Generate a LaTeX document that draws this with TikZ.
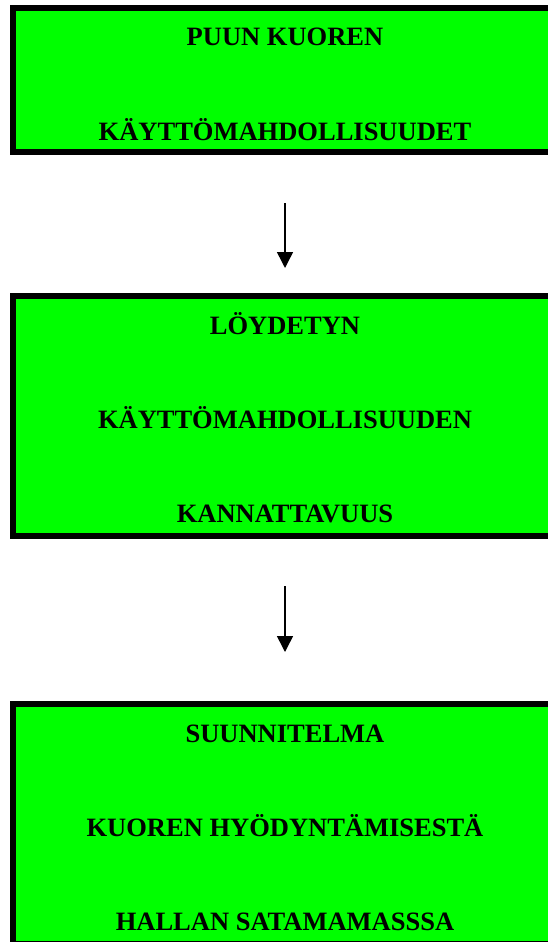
\documentclass[tikz,border=0pt]{standalone}
\usepackage{fontspec}
\setmainfont{Liberation Serif}
\usetikzlibrary{arrows.meta}
\definecolor{boxgreen}{HTML}{00FF00}
\tikzset{
  stagebox/.style={draw=black, fill=boxgreen, line width=6pt, minimum width=544pt, inner sep=0pt},
  stagetext/.style={anchor=base, inner sep=0pt, font=\fontsize{26.5}{30}\selectfont\bfseries},
  flowarrow/.style={line width=1.5pt, -{Triangle[width=16pt,length=16pt]}}
}
\begin{document}
\begin{tikzpicture}[x=1pt,y=-1pt]
\useasboundingbox (0,0) rectangle (547,942);

% stage boxes
\node[stagebox, minimum height=144pt] (b1) at (285,80) {};
\node[stagebox, minimum height=240pt] (b2) at (285,416) {};
\node[stagebox, minimum height=240pt] (b3) at (285,824) {};

% box texts
\node[stagetext] (t11) at (285,46) {PUUN KUOREN};
\node[stagetext] (t12) at (285,140) {KÄYTTÖMAHDOLLISUUDET};

\node[stagetext] (t21) at (285,334) {LÖYDETYN};
\node[stagetext] (t22) at (285,428) {KÄYTTÖMAHDOLLISUUDEN};
\node[stagetext] (t23) at (285,522) {KANNATTAVUUS};

\node[stagetext] (t31) at (285,742) {SUUNNITELMA};
\node[stagetext] (t32) at (285,836) {KUOREN HYÖDYNTÄMISESTÄ};
\node[stagetext] (t33) at (285,930) {HALLAN SATAMAMASSSA};

% arrows between stages
\draw[flowarrow, shorten <=48pt, shorten >=25pt] (b1.south) -- (b2.north);
\draw[flowarrow, shorten <=47pt, shorten >=49pt] (b2.south) -- (b3.north);
\end{tikzpicture}
\end{document}
